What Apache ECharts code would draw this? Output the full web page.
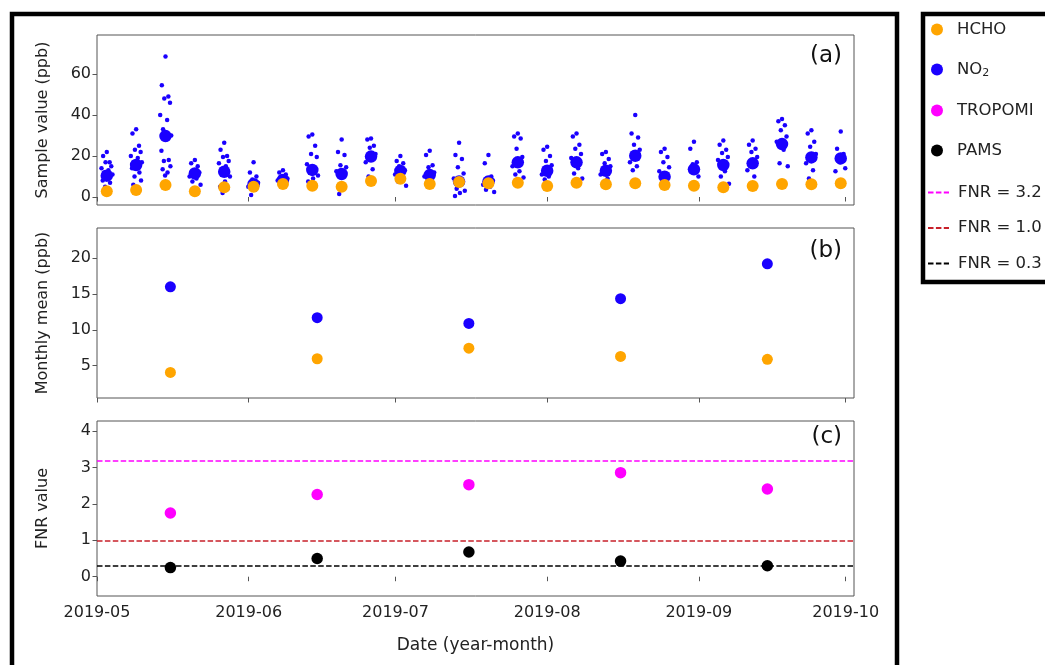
<!DOCTYPE html>
<html>
<head>
<meta charset="utf-8">
<script src="https://cdn.jsdelivr.net/npm/echarts@6/dist/echarts.min.js"></script>
<style>
  html, body { margin: 0; padding: 0; background: #fff; }
  #chart { width: 1045px; height: 665px; }
</style>
</head>
<body>
<div id="chart"></div>
<script>
// sampling days (1-in-6 day schedule)
const sampleDates = [
  '2019-05-03', '2019-05-09', '2019-05-15', '2019-05-21', '2019-05-27',
  '2019-06-02', '2019-06-08', '2019-06-14', '2019-06-20', '2019-06-26',
  '2019-07-02', '2019-07-08', '2019-07-14', '2019-07-20', '2019-07-26',
  '2019-08-01', '2019-08-07', '2019-08-13', '2019-08-19', '2019-08-25',
  '2019-08-31', '2019-09-06', '2019-09-12', '2019-09-18', '2019-09-24',
  '2019-09-30'
];
const hchoSample = [
  2.8, 3.4, 5.8, 2.8, 4.7, 5.0, 6.3, 5.5, 5.0, 7.8, 8.9, 6.3, 7.3,
  6.7, 7.0, 5.4, 7.0, 6.2, 6.7, 5.8, 5.5, 4.7, 5.4, 6.3, 6.2, 6.7
];
const no2Sample = [
  10.4, 15.6, 29.7, 11.5, 12.3, 6.2, 8.3, 13.2, 11.2, 19.7, 12.7, 10.7, 7.5,
  7.5, 16.9, 12.8, 16.9, 12.8, 20.1, 9.9, 13.5, 15.6, 16.4, 25.8, 19.3, 18.8
];
// individual NO2 values for each sampling day
const no2Points = [
  [22, 20, 17, 17, 15, 14, 13, 12, 11, 9, 8, 7, 5],
  [33, 31, 25, 23, 22, 20, 19, 17, 17, 15, 14, 12, 10, 8, 6],
  [68.5, 54.5, 49, 48, 46, 40, 37.5, 33, 30, 28, 22.5, 18, 17.5, 15, 13.5, 12, 10.5],
  [18, 16.5, 15, 13, 12, 10, 9, 7.5, 6],
  [26.5, 23, 20, 19.5, 17.5, 16.5, 15, 13, 10, 7.5, 5, 4, 2],
  [17, 12, 10, 8.5, 7, 5, 3.5, 1],
  [13, 12, 11, 10, 9, 8, 7],
  [30.5, 29.5, 25, 21, 19.5, 16, 14, 12, 10.5, 9, 7.5],
  [28, 22, 20.5, 15.5, 14.5, 12.5, 10, 1.5],
  [28.5, 28, 25, 24, 21, 17, 13.5, 10],
  [20, 17.5, 16.5, 15, 13, 11, 10, 7.5, 5.5],
  [22.5, 20.5, 15.5, 14.5, 12, 10, 9],
  [26.5, 20.5, 18.5, 14.5, 11.5, 9, 6, 4, 3, 2, 0.5],
  [20.5, 16.5, 10, 9, 8, 6, 5, 3.5, 2.5],
  [31, 29.5, 28.5, 23.5, 19.5, 15, 12.5, 11, 9.5],
  [24.5, 23, 20, 17.5, 15.5, 11, 10, 8.5],
  [31, 29.5, 25.5, 23.5, 21, 19, 14, 11.5, 9],
  [22, 21, 18.5, 16.5, 15, 11, 9],
  [40, 31, 29, 25.5, 23, 17, 15, 13],
  [23.5, 22, 19.5, 17, 14.5, 12.5, 8],
  [27, 23.5, 17, 16, 10],
  [27.5, 25.5, 23, 21.5, 19.5, 18, 12.5, 10, 6.5],
  [27.5, 25.5, 23.5, 22, 19.5, 13, 10],
  [38, 37, 35, 32.5, 29.5, 27, 23, 16.5, 15],
  [32.5, 31, 27, 24.5, 21, 16.5, 13, 9],
  [32, 23.5, 21, 17, 14, 12.5]
];
// horizontal spread (hours) of the individual points around the sampling day
const spreadHours = [0, -18, 14, -6, 22, -26, 8, -12, 28, 4, -20, 16, -8, 24, -14, 10, -2];

const monthDates = ['2019-05-16', '2019-06-15', '2019-07-16', '2019-08-16', '2019-09-15'];
const hchoMonthly = [4.07, 5.97, 7.45, 6.3, 5.9];
const no2Monthly = [16.0, 11.7, 10.9, 14.35, 19.2];
const fnrTropomi = [1.75, 2.26, 2.53, 2.86, 2.41];
const fnrPams = [0.25, 0.5, 0.68, 0.43, 0.3];
const fnrThresholds = [3.2, 1.0, 0.3];

const monthTicks = ['2019-05-01', '2019-06-01', '2019-07-01', '2019-08-01', '2019-09-01', '2019-10-01'];
const sampleTicks = [0, 20, 40, 60];
const meanTicks = [5, 10, 15, 20];
const fnrTicks = [0, 1, 2, 3, 4];

const t = s => echarts.time.parse(s).getTime();
const HOUR = 3600 * 1000;

const chart = echarts.init(document.getElementById('chart'));

const COLORS = {
  hcho: '#ffa500',
  no2: '#1a00ff',
  tropomi: '#ff00ff',
  pams: '#000000',
  lines: ['#ff00ff', '#c8202a', '#000000']
};
const FONT = 'DejaVu Sans';
const spine = '#555';

const pointsData = [];
no2Points.forEach((vals, i) => {
  vals.forEach((v, j) => {
    pointsData.push([t(sampleDates[i]) + spreadHours[j] * HOUR, v]);
  });
});
const pair = (dates, vals) => dates.map((d, i) => [t(d), vals[i]]);

const tickTimes = monthTicks.map(t);
const fmtMonth = v => {
  const d = new Date(v);
  const m = d.getMonth() + 1;
  return d.getFullYear() + '-' + (m < 10 ? '0' + m : m);
};

const grids = [
  { left: 97, top: 35, width: 757, height: 170 },
  { left: 97, top: 228, width: 757, height: 170 },
  { left: 97, top: 421, width: 757, height: 175 }
].map(g => Object.assign({ show: true, borderColor: spine, borderWidth: 1, backgroundColor: 'transparent' }, g));

const xAxes = [0, 1, 2].map(i => ({
  type: 'value',
  gridIndex: i,
  min: t('2019-05-01'),
  max: t('2019-10-02') + 17 * HOUR,
  axisLine: { show: false },
  splitLine: { show: false },
  axisTick: {
    show: true,
    length: 4.5,
    customValues: tickTimes,
    lineStyle: { color: spine, width: 1 }
  },
  axisLabel: {
    show: i === 2,
    customValues: tickTimes,
    formatter: fmtMonth,
    fontFamily: FONT,
    fontSize: 16,
    color: '#222',
    margin: 9
  },
  name: i === 2 ? 'Date (year-month)' : '',
  nameLocation: 'middle',
  nameGap: 41,
  nameTextStyle: { fontFamily: FONT, fontSize: 17, color: '#222' }
}));

const yDefs = [
  { min: -3.9, max: 79, ticks: sampleTicks, name: 'Sample value (ppb)' },
  { min: 0.5, max: 24.2, ticks: meanTicks, name: 'Monthly mean (ppb)' },
  { min: -0.53, max: 4.28, ticks: fnrTicks, name: 'FNR value' }
];
const yAxes = yDefs.map((d, i) => ({
  type: 'value',
  gridIndex: i,
  min: d.min,
  max: d.max,
  axisLine: { show: false },
  splitLine: { show: false },
  axisTick: {
    show: true,
    length: 4.5,
    customValues: d.ticks,
    lineStyle: { color: spine, width: 1 }
  },
  axisLabel: {
    customValues: d.ticks,
    fontFamily: FONT,
    fontSize: 16,
    color: '#222',
    margin: 6
  },
  name: d.name,
  nameLocation: 'middle',
  nameGap: 46,
  nameTextStyle: { fontFamily: FONT, fontSize: 16, color: '#222' }
}));

const dot = (name, axis, data, color, size) => ({
  type: 'scatter',
  name,
  xAxisIndex: axis,
  yAxisIndex: axis,
  data,
  symbolSize: size,
  itemStyle: { color, opacity: 1 },
  emphasis: { disabled: true },
  animation: false
});

const lineSeries = fnrThresholds.map((v, i) => ({
  type: 'line',
  name: 'FNR = ' + v.toFixed(1),
  xAxisIndex: 2,
  yAxisIndex: 2,
  data: [],
  symbol: 'none',
  color: COLORS.lines[i],
  lineStyle: { color: COLORS.lines[i], type: [5.5, 2.4], width: 1.5 },
  markLine: {
    silent: true,
    symbol: 'none',
    animation: false,
    label: { show: false },
    lineStyle: { color: COLORS.lines[i], type: [5.5, 2.4], width: 1.5 },
    data: [{ yAxis: v }]
  }
}));

const panelLabel = (text, y) => ({
  type: 'text',
  right: 1045 - 842,
  top: y,
  style: { text, font: '23px "DejaVu Sans"', fill: '#111' }
});

chart.setOption({
  animation: false,
  grid: grids,
  xAxis: xAxes,
  yAxis: yAxes,
  legend: [
    {
      data: ['HCHO', 'NO2', 'TROPOMI', 'PAMS'],
      orient: 'vertical',
      left: 931,
      top: 21,
      padding: 0,
      icon: 'circle',
      itemWidth: 12,
      itemHeight: 12,
      itemGap: 23,
      selectedMode: false,
      formatter: name => (name === 'NO2' ? 'NO{sub|2}' : name),
      textStyle: {
        fontFamily: FONT,
        fontSize: 16.5,
        color: '#222',
        padding: [0, 0, 0, 9],
        rich: { sub: { fontFamily: FONT, fontSize: 11, color: '#222', verticalAlign: 'bottom', padding: [8, 0, 0, 0] } }
      }
    },
    {
      data: fnrThresholds.map(v => 'FNR = ' + v.toFixed(1)),
      orient: 'vertical',
      left: 927,
      top: 184,
      padding: 0,
      itemWidth: 21,
      itemHeight: 14,
      itemGap: 18.5,
      selectedMode: false,
      itemStyle: { opacity: 0 },
      textStyle: { fontFamily: FONT, fontSize: 16.5, color: '#222', padding: [0, 0, 0, 4] }
    }
  ],
  graphic: [
    {
      type: 'rect',
      shape: { x: 12, y: 14, width: 885, height: 700 },
      style: { fill: 'none', stroke: '#000', lineWidth: 4.5 },
      silent: true
    },
    {
      type: 'rect',
      shape: { x: 923, y: 14, width: 160, height: 268 },
      style: { fill: 'none', stroke: '#000', lineWidth: 4.5 },
      silent: true
    },
    panelLabel('(a)', 45),
    panelLabel('(b)', 240),
    panelLabel('(c)', 426)
  ],
  series: [
    dot('NO2', 0, pointsData, COLORS.no2, 4.5),
    dot('NO2', 0, pair(sampleDates, no2Sample), COLORS.no2, 12.5),
    dot('HCHO', 0, pair(sampleDates, hchoSample), COLORS.hcho, 12),
    dot('NO2', 1, pair(monthDates, no2Monthly), COLORS.no2, 11),
    dot('HCHO', 1, pair(monthDates, hchoMonthly), COLORS.hcho, 11),
    ...lineSeries,
    dot('TROPOMI', 2, pair(monthDates, fnrTropomi), COLORS.tropomi, 11.5),
    dot('PAMS', 2, pair(monthDates, fnrPams), COLORS.pams, 11.5)
  ]
});
</script>
</body>
</html>
